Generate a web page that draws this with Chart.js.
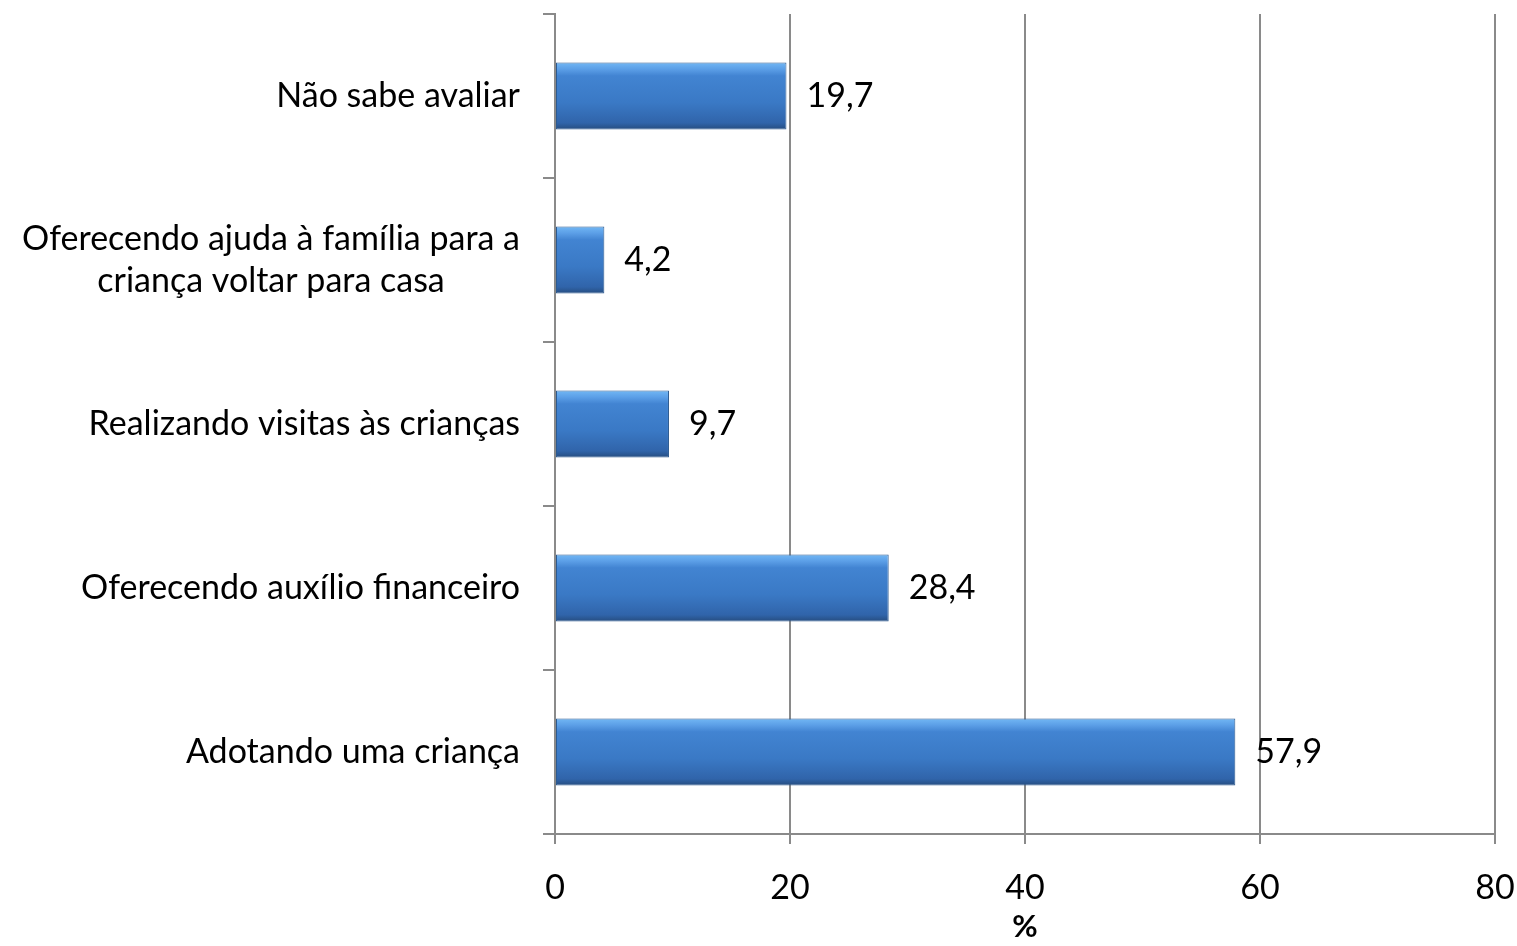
<!DOCTYPE html>
<html>
<head>
<meta charset="utf-8">
<script src="https://cdn.jsdelivr.net/npm/chart.js@4.4.0/dist/chart.umd.min.js"></script>
<style>
  html, body { margin: 0; padding: 0; background: #fff; }
  #wrap { width: 1517px; height: 946px; }
</style>
</head>
<body>
<div id="wrap"><canvas id="myChart"></canvas></div>
<script>
// data (top to bottom)
var categories = [
  "Não sabe avaliar",
  ["Oferecendo ajuda à família para a", "criança voltar para casa"],
  "Realizando visitas às crianças",
  "Oferecendo auxílio financeiro",
  "Adotando uma criança"
];
var values = [19.7, 4.2, 9.7, 28.4, 57.9];
var xTicks = [0, 20, 40, 60, 80];
var axisTitle = "%";

var FONT = "Lato, 'Open Sans', sans-serif";
var GRID = "#8a8a8a";
var BAR_PCT = 0.41;

function barFill(context) {
  var chart = context.chart;
  var y = chart.scales.y;
  if (!y || !chart.chartArea) return "#3d7cc8";
  var c = y.getPixelForValue(context.dataIndex);
  var half = (y.height / categories.length) * BAR_PCT / 2;
  var g = chart.ctx.createLinearGradient(0, c - half, 0, c + half);
  g.addColorStop(0, "#72b8f5");
  g.addColorStop(0.1, "#5c9fe7");
  g.addColorStop(0.2, "#4284d2");
  g.addColorStop(0.6, "#3a79c5");
  g.addColorStop(0.9, "#3064aa");
  g.addColorStop(1, "#264c7e");
  return g;
}

// category labels: single lines right aligned, wrapped label centred on itself
var yLabels = {
  id: "yLabels",
  afterDraw: function (chart) {
    var ctx = chart.ctx;
    var y = chart.scales.y;
    var right = y.right - 35;
    ctx.save();
    ctx.font = "34px " + FONT;
    ctx.fillStyle = "#000";
    ctx.textBaseline = "middle";
    categories.forEach(function (lab, i) {
      var cy = y.getPixelForValue(i);
      if (Array.isArray(lab)) {
        var w = Math.max.apply(null, lab.map(function (s) { return ctx.measureText(s).width; }));
        var cx = right - w / 2;
        ctx.textAlign = "center";
        var lh = 42;
        lab.forEach(function (s, k) {
          ctx.fillText(s, cx, cy + (k - (lab.length - 1) / 2) * lh);
        });
      } else {
        ctx.textAlign = "right";
        ctx.fillText(lab, right, cy);
      }
    });
    ctx.restore();
  }
};

// value labels after each bar, comma decimal
var valueLabels = {
  id: "valueLabels",
  afterDatasetsDraw: function (chart) {
    var ctx = chart.ctx;
    var meta = chart.getDatasetMeta(0);
    ctx.save();
    ctx.font = "34px " + FONT;
    ctx.fillStyle = "#000";
    ctx.textAlign = "left";
    ctx.textBaseline = "middle";
    meta.data.forEach(function (bar, i) {
      ctx.fillText(values[i].toFixed(1).replace(".", ","), bar.x + 20, bar.y);
    });
    ctx.restore();
  }
};

var ctx = document.getElementById("myChart").getContext("2d");
var myChart = new Chart(ctx, {
  type: "bar",
  data: {
    labels: categories,
    datasets: [
      {
        data: values,
        backgroundColor: barFill,
        borderColor: "#2c5a90",
        borderWidth: 1,
        borderSkipped: false,
        barPercentage: BAR_PCT,
        categoryPercentage: 1
      }
    ]
  },
  plugins: [yLabels, valueLabels],
  options: {
    indexAxis: "y",
    responsive: true,
    maintainAspectRatio: false,
    animation: false,
    layout: { padding: { top: 14, right: 22, left: 0, bottom: 0 } },
    plugins: {
      legend: { display: false },
      tooltip: { enabled: false }
    },
    scales: {
      x: {
        min: 0,
        max: 80,
        afterBuildTicks: function (scale) {
          scale.ticks = xTicks.map(function (v) { return { value: v }; });
        },
        grid: {
          color: GRID,
          lineWidth: 2,
          tickLength: 10,
          drawTicks: true
        },
        border: { color: GRID, width: 2 },
        ticks: {
          color: "#000",
          padding: 24,
          font: { family: FONT, size: 34 }
        },
        title: {
          display: true,
          text: axisTitle,
          color: "#000",
          padding: { top: 5, bottom: 0 },
          font: { family: FONT, size: 31, weight: "bold" }
        },
        afterFit: function (scale) {
          scale.height = 112;
          scale.paddingRight = 0;
          scale.paddingLeft = 0;
        }
      },
      y: {
        offset: true,
        grid: {
          offset: true,
          drawOnChartArea: false,
          drawTicks: true,
          tickLength: 12,
          color: GRID,
          lineWidth: 2
        },
        border: { color: GRID, width: 2 },
        ticks: { display: false },
        afterFit: function (scale) { scale.width = 555; }
      }
    }
  }
});
</script>
</body>
</html>
